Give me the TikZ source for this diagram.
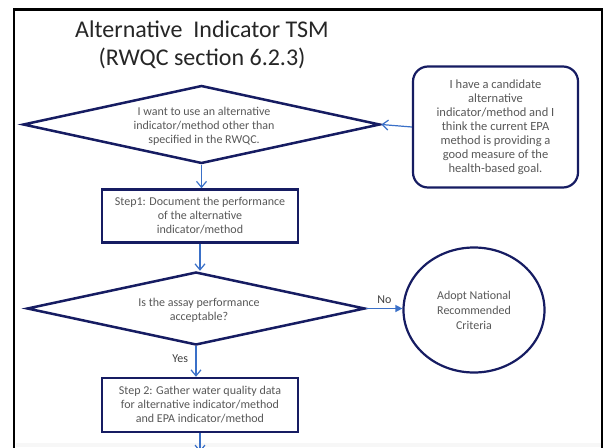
\documentclass[tikz,border=0pt]{standalone}
\usepackage{fontspec}
\setmainfont{Carlito}
\usetikzlibrary{shapes.geometric,arrows.meta}
\definecolor{navy}{RGB}{22,28,98}
\definecolor{flowblue}{RGB}{58,112,200}
\definecolor{txtgray}{RGB}{88,88,88}
\tikzset{
  dia/.style={shape=diamond, draw=navy, line width=2.5pt, inner sep=0pt},
  stepbox/.style={shape=rectangle, draw=navy, line width=2.5pt, inner sep=0pt,
    minimum width=196pt, minimum height=53pt, text=txtgray, align=center,
    font=\fontsize{12pt}{14pt}\selectfont},
  txt/.style={text=txtgray, align=center, font=\fontsize{12pt}{14pt}\selectfont},
  flow/.style={draw=flowblue, line width=1.2pt, -{Straight Barb[length=6pt,width=10pt,line width=1.2pt]}},
  flowfill/.style={draw=flowblue, line width=1.4pt, -{Triangle[length=7pt,width=7pt]}},
  lbl/.style={text=black!75, font=\fontsize{12pt}{14pt}\selectfont},
}
\begin{document}
\begin{tikzpicture}[x=1pt,y=-1pt]
\useasboundingbox (0,0) rectangle (604,447);
\clip (0,0) rectangle (604,447);
\fill[white] (0,0) rectangle (604,447);
% outer frame (open at the bottom edge)
\draw[black, line width=2.8pt] (14,460) -- (14,9.5) -- (602,9.5) -- (602,460);
\fill[black!3] (15.5,443) rectangle (600.5,447);

% title
\node[font=\fontsize{24pt}{28pt}\selectfont, align=center, text=black!85] (title) at (202,45)
  {Alternative\ \ Indicator TSM\\(RWQC section 6.2.3)};

% first decision
\node[dia, minimum width=357pt, minimum height=78pt] (d1) at (201.5,124.5) {};
\node[txt] (d1t) at (204,126) {I want to use an alternative\\indicator/method other than\\specified in the RWQC.};

% candidate box
\node[shape=rectangle, rounded corners=15pt, draw=navy, line width=2.2pt,
      minimum width=165pt, minimum height=121pt, inner sep=0pt] (cand) at (495.5,127) {};
\node[txt, font=\fontsize{12.5pt}{14pt}\selectfont] (candt) at (495.5,127) {I have a candidate\\alternative\\indicator/method and I\\think the current EPA\\method is providing a\\good measure of the\\health-based goal.};

% step 1
\node[stepbox] (s1) at (200,216) {Step1: Document the performance\\of the alternative\\indicator/method};

% second decision
\node[dia, minimum width=338pt, minimum height=73pt] (d2) at (196,308.5) {};
\node[txt] (d2t) at (199,310) {Is the assay performance\\acceptable?};

% adopt criteria
\node[shape=ellipse, draw=navy, line width=2.2pt, minimum width=141pt, minimum height=125pt,
      inner sep=0pt, txt, font=\fontsize{12pt}{15pt}\selectfont] (adopt) at (474,310)
  {Adopt National\\Recommended\\Criteria};

% step 2
\node[stepbox, minimum height=54pt] (s2) at (200,405) {Step 2: Gather water quality data\\for alternative indicator/method\\and EPA indicator/method};

% connectors
\draw[flow] (cand.west) -- (d1.east);
\draw[flow] (d1.south) -- (d1.south |- s1.north);
\draw[flow] (s1.south) -- (s1.south |- d2.north);
\draw[flowfill] (d2.east) -- (d2.east -| adopt.west) node[lbl, midway, above, yshift=1pt] (no) {No};
\draw[flow] (d2.south) -- (d2.south |- s2.north) node[lbl, pos=0.4, left, xshift=-4pt] (yes) {Yes};
\coordinate (next) at (200,452);
\draw[flow] (s2.south) -- (next);
\end{tikzpicture}
\end{document}
